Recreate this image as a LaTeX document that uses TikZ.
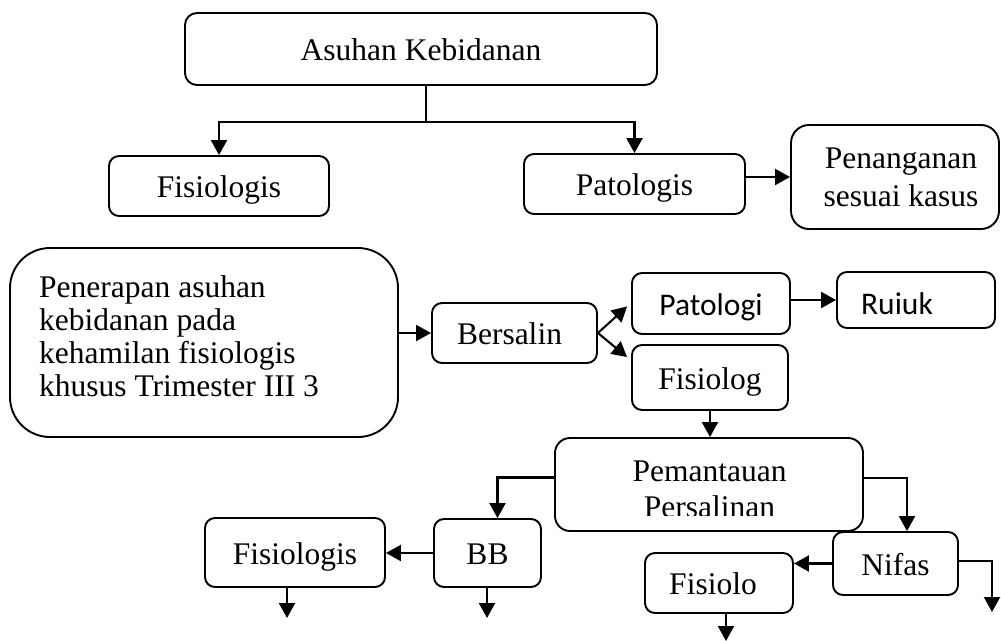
\documentclass[tikz,border=0pt]{standalone}
\usepackage{fontspec}
\setmainfont{Liberation Serif}
\newfontfamily\sansf{Carlito}
\usetikzlibrary{arrows.meta,calc}
\begin{document}
\begin{tikzpicture}[x=1pt,y=-1pt,
  box/.style={draw, line width=1.9pt, rounded corners=10pt, inner sep=0pt,
    text height=28pt, text depth=5pt, font=\fontsize{31.5}{35}\selectfont},
  sansbox/.style={box, font=\sansf\fontsize{31.5}{35}\selectfont},
  txt/.style={inner sep=0pt, font=\fontsize{31.5}{35}\selectfont},
  arr/.style={line width=2.1pt, -{Triangle[length=15pt,width=16pt]}},
  ln/.style={line width=2.1pt}]
\useasboundingbox (0,0) rectangle (1001,640);

% nodes
\node[box, rounded corners=12pt, minimum width=472, minimum height=72] (ak) at (421,49) {Asuhan Kebidanan};
\node[box, minimum width=220, minimum height=60] (fis1) at (219,186) {Fisiologis};
\node[box, minimum width=221, minimum height=60] (pat) at (634.5,184) {Patologis};
\node[box, rounded corners=18pt, minimum width=208, minimum height=104] (pen) at (895,177) {};
\node[txt, anchor=north, align=center, font=\fontsize{31.5}{38}\selectfont] (pentxt) at (901,148) {Penanganan\\sesuai kasus};
\node[box, rounded corners=40pt, minimum width=388, minimum height=189] (ter) at (204,342.5) {};
\node[txt, anchor=north west, align=left, font=\fontsize{31.5}{33}\selectfont] (tertxt) at (39,275.5) {Penerapan asuhan\\kebidanan pada\\kehamilan fisiologis\\khusus Trimester III 3};
\node[box, minimum width=165, minimum height=60] (ber) at (514.5,333) {Bersalin\hspace*{10pt}};
\node[sansbox, minimum width=158, minimum height=61] (patg) at (711,303.5) {Patologi};
\node[sansbox, text depth=0pt, minimum width=158, minimum height=56] (ruj) at (916,300) {Ruiuk\hspace*{38pt}};
\node[box, minimum width=156, minimum height=65] (fsg) at (710,377.5) {Fisiolog};
\node[box, rounded corners=15pt, minimum width=308, minimum height=93] (pem) at (709,484.5) {};
\begin{scope}
  \clip (556,440) rectangle (862,515);
  \node[txt, anchor=north, align=center, font=\fontsize{31.5}{35.5}\selectfont] (pemtxt) at (709.5,461) {Pemantauan\\Persalinan};
\end{scope}
\node[box, minimum width=125, minimum height=63] (nif) at (895.5,563.5) {Nifas};
\node[box, minimum width=148, minimum height=60] (fso) at (719,583) {Fisiolo\hspace*{12pt}};
\node[box, minimum width=107, minimum height=68] (bb) at (487.5,553) {BB};
\node[box, minimum width=180, minimum height=69] (fis2) at (295,552.5) {Fisiologis};

% connectors
\coordinate (j) at (426,122);
\draw[ln] (ak.south -| j) -- (j);
\draw[arr] (j) -| (fis1.north);
\draw[arr] (j) -| (pat.north);
\draw[arr] (pat.east |- pen.west) -- (pen.west);
\draw[arr] (ter.east |- ber.west) -- (ber.west);
\draw[arr] (ber.east) -- ($(patg.west)+(-4,3)$);
\draw[arr] (ber.east) -- ($(fsg.north west)+(-4,13)$);
\draw[arr] (patg.east |- ruj.west) -- (ruj.west);
\draw[arr] (fsg.south) -- (fsg.south |- pem.north);
\draw[arr] ($(pem.west)+(0,-7)$) -| ($(bb.north)+(10,0)$);
\draw[arr] ($(pem.east)+(0,-6.5)$) -| ($(nif.north)+(11.5,0)$);
\coordinate (nifend) at (992,612);
\draw[arr] ($(nif.east)+(0,-2.5)$) -| (nifend);
\draw[arr] (nif.west) -- (nif.west -| fso.east);
\coordinate (fsoend) at (726,641);
\draw[arr] (fso.south -| fsoend) -- (fsoend);
\draw[arr] (bb.west) -- (bb.west -| fis2.east);
\coordinate (fistwoend) at (287,618);
\draw[arr] (fis2.south -| fistwoend) -- (fistwoend);
\coordinate (bbend) at (487,618);
\draw[arr] (bb.south -| bbend) -- (bbend);
\end{tikzpicture}
\end{document}
